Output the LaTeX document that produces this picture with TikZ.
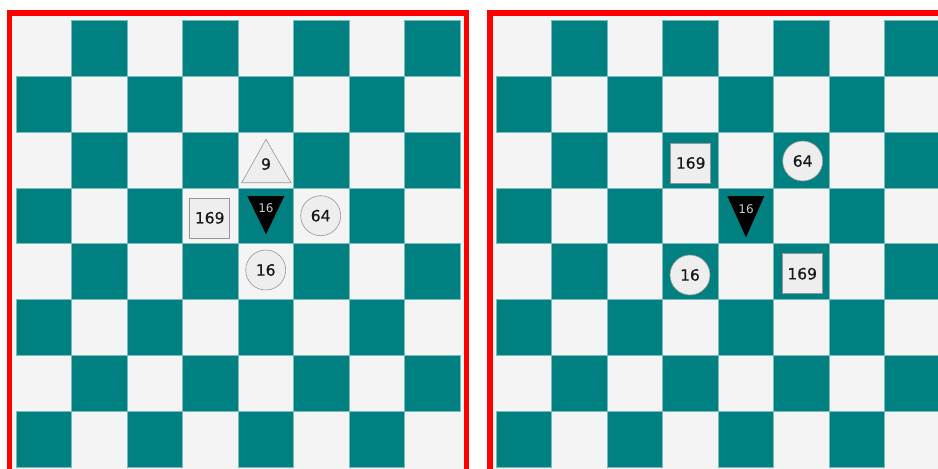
\documentclass[tikz,border=0pt]{standalone}
\usepackage{fontspec}
\setmainfont{DejaVu Sans}
\newfontface\piecefont{DejaVu Sans}[FakeBold=0.7]
\definecolor{teal0}{RGB}{0,128,128}
\definecolor{tealedge}{RGB}{120,188,188}
\definecolor{lightsq}{RGB}{244,244,244}
\definecolor{piecefill}{RGB}{238,238,238}
\definecolor{pieceedge}{RGB}{150,150,150}
\definecolor{smalltext}{RGB}{200,200,200}
\begin{document}
\begin{tikzpicture}[x=1pt,y=-1pt,
  darksq/.style={fill=teal0, draw=tealedge, line width=0.8pt},
  frame/.style={draw=red, line width=5.5pt, fill=lightsq},
  piecetext/.style={font=\piecefont\fontsize{15.5}{15.5}\selectfont, text=black!90},
  disc/.style={circle, draw=pieceedge, fill=piecefill, minimum size=40pt, inner sep=0pt, line width=0.6pt, piecetext},
  tile/.style={rectangle, draw=pieceedge, fill=piecefill, minimum width=40pt, minimum height=40pt, inner sep=0pt, line width=0.6pt, piecetext},
  uptri/.style={draw=pieceedge, fill=piecefill, line width=0.6pt},
  downtri/.style={fill=black},
  tritext/.style={inner sep=0pt, piecetext},
  smalllabel/.style={inner sep=0pt, font=\fontsize{12}{12}\selectfont, text=smalltext}]
\useasboundingbox (0,0) rectangle (938,469);
\fill[white] (0,0) rectangle (938,469);
\begin{scope}
  \clip (0,0) rectangle (938,469);
  \draw[frame] (9.5,13) rectangle (466.3,490);
  \draw[frame] (490,13) rectangle (960,490);
  \foreach \ox in {16,496} {
    \foreach \r in {0,...,7} {
      \foreach \c in {0,...,7} {
        \pgfmathtruncatemacro{\odd}{mod(\r+\c,2)}
        \ifnum\odd=1
          \draw[darksq] (\ox+55.5*\c, 20.4+55.85*\r) rectangle ++(55.5,55.85);
        \fi
      }
    }
  }
\end{scope}
% left board pieces
\draw[uptri] (266,139.3) -- (291,182.7) -- (241.7,182.7) -- cycle;
\node[tritext] (l9) at (266,164) {9};
\fill[downtri] (247.3,196) -- (284.3,196) -- (266,234.3) -- cycle;
\node[smalllabel] (lb16) at (266,208.3) {16};
\node[tile] (l169) at (209.7,217.8) {169};
\node[disc] (l64) at (320.7,215.7) {64};
\node[disc] (l16) at (265.7,270) {16};
% right board pieces
\node[tile] (r169a) at (690.7,163) {169};
\node[disc] (r64) at (802.7,161) {64};
\fill[downtri] (727.3,196) -- (764.3,196) -- (746,237.3) -- cycle;
\node[smalllabel] (rb16) at (746,209) {16};
\node[disc] (r16) at (690,275) {16};
\node[tile] (r169b) at (802.2,273.7) {169};
\end{tikzpicture}
\end{document}
